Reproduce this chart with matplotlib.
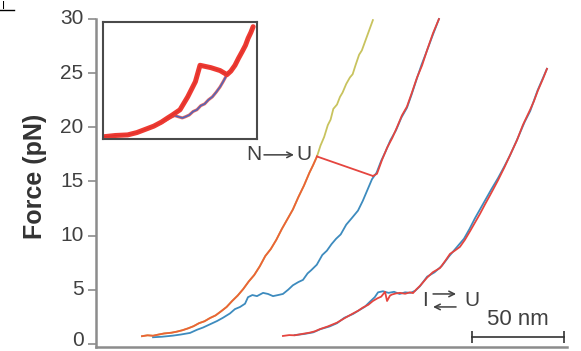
import matplotlib
matplotlib.use("Agg")
import matplotlib.pyplot as plt
from matplotlib.transforms import ScaledTranslation

plt.rcParams['font.family'] = ['Liberation Sans', 'DejaVu Sans']

# ---- trace 1: first pull (native -> unfolded) ----
pull1_x = [25, 28, 31, 34, 37, 41, 44, 47, 50, 53, 56, 59, 62, 65, 68, 71, 74, 77, 80, 83,
           86, 89, 92, 95, 98, 101, 104, 107, 110, 113, 116, 118, 120.1]
pull1_f = [0.70, 0.78, 0.74, 0.85, 0.95, 1.02, 1.12, 1.25, 1.42, 1.62, 1.90, 2.08, 2.38, 2.62,
           3.00, 3.40, 3.95, 4.45, 5.05, 5.75, 6.35, 7.15, 8.10, 8.75, 9.60, 10.60, 11.50,
           12.40, 13.55, 14.60, 15.80, 16.50, 17.30]

# stretch of the native state beyond the unfolding force
native_x = [120.1, 122, 124, 126, 127.5, 129, 131, 132.6, 134, 136, 138, 139.5, 141,
            143, 144.5, 146, 147.5, 149, 150.5]
native_f = [17.30, 18.30, 19.10, 20.20, 20.70, 21.70, 22.10, 22.80, 23.20, 24.00, 24.60,
            24.90, 25.70, 26.70, 27.10, 27.80, 28.50, 29.20, 29.90]

# unfolding rip
rip_x = [120.1, 150.5]
rip_f = [17.3, 15.5]

# unfolded-state stretch
unf_x = [150.5, 152.7, 155.5, 158.2, 161, 163.6, 166.3, 169, 171.7, 174.5, 177.2,
         179.9, 183.2, 186.4]
unf_f = [15.5, 15.7, 17.0, 18.1, 19.0, 20.0, 21.1, 21.9, 23.2, 24.6, 25.7, 27.1, 28.7, 30.0]

# relaxation (blue)
relax1_x = [186.4, 183, 179.5, 177, 174, 171.5, 169, 166, 163, 160, 157.5, 155, 152.5,
            150, 147.5, 145, 142.4, 139, 136, 133, 130.5, 128, 125.5, 123, 120, 117, 115,
            112.5, 110, 107, 104.5, 101.6, 99, 96.2, 93.5, 90.8, 87.5, 85, 82.6, 81, 78.3,
            75.5, 72.8, 69, 65.8, 62, 58.2, 55, 51.1, 46, 41.8, 36, 31]
relax1_f = [30.0, 28.5, 26.9, 25.8, 24.3, 23.0, 21.8, 20.9, 19.7, 18.8, 17.8, 16.9, 15.8,
            15.2, 14.2, 13.2, 12.3, 11.6, 11.0, 10.1, 9.7, 9.2, 8.6, 8.2, 7.3, 6.8, 6.5,
            5.9, 5.7, 5.4, 5.0, 4.6, 4.5, 4.4, 4.6, 4.7, 4.4, 4.5, 4.3, 3.7, 3.4, 3.2, 2.8,
            2.4, 2.1, 1.8, 1.5, 1.3, 1.0, 0.85, 0.75, 0.65, 0.60]

# ---- trace 2: intermediate hopping (I <-> U) ----
pull2_x = [101.6, 105, 108, 112.5, 116, 119, 121.7, 126, 131, 135, 139.7, 142.5, 145.1,
           148, 150.5, 153, 155, 157.1, 158.2, 159.8, 160.9, 163, 165.2, 168, 170.7, 172.3,
           174, 176.1, 179.9, 183, 187, 190, 192.4, 195, 197.8, 200.5, 203.3, 206, 208.7,
           211.5, 214.1, 216, 218.5, 222, 225, 228.8, 232, 235.9, 238, 240.2, 243, 245.1]
pull2_f = [0.72, 0.80, 0.78, 0.92, 1.02, 1.15, 1.35, 1.60, 1.95, 2.35, 2.80, 3.05, 3.35,
           3.60, 3.95, 4.20, 4.35, 4.80, 3.95, 4.45, 4.55, 4.65, 4.70, 4.62, 4.75, 4.68,
           5.00, 5.35, 6.10, 6.60, 7.00, 7.70, 8.30, 8.60, 8.95, 9.60, 10.40, 11.20, 12.00,
           12.90, 13.70, 14.30, 15.10, 16.30, 17.40, 18.80, 20.20, 21.60, 22.40, 23.40,
           24.50, 25.40]

relax2_x = [108, 113, 118, 122, 127, 131, 135, 139.7, 143, 146, 149, 151.5, 153.3, 156,
            159, 162, 165, 168, 171, 173.5, 176, 180, 184, 188, 192, 196, 200, 203, 206,
            209, 212, 215, 218.5, 222, 225, 229, 233, 236, 240, 245.1]
relax2_f = [0.80, 0.90, 1.05, 1.35, 1.60, 1.90, 2.40, 2.75, 3.10, 3.40, 3.90, 4.30, 4.75,
            4.85, 4.70, 4.80, 4.60, 4.75, 4.70, 4.90, 5.30, 6.20, 6.60, 7.20, 8.10, 8.90,
            9.70, 10.60, 11.60, 12.50, 13.40, 14.30, 15.30, 16.40, 17.40, 18.90, 20.50,
            21.50, 23.40, 25.40]

# ---- inset: overlay of repeated pulls (relative units) ----
ins_pull_x = [0.01, 0.08, 0.16, 0.22, 0.27, 0.33, 0.38, 0.42, 0.45, 0.50, 0.55, 0.60,
              0.63, 0.70, 0.76, 0.805, 0.83, 0.857, 0.88, 0.903, 0.925, 0.942, 0.96, 0.975]
ins_pull_y = [0.02, 0.03, 0.035, 0.055, 0.08, 0.11, 0.145, 0.18, 0.205, 0.25, 0.36, 0.49,
              0.63, 0.61, 0.585, 0.55, 0.58, 0.63, 0.69, 0.745, 0.80, 0.86, 0.91, 0.96]
ins_relax_x = [0.805, 0.78, 0.76, 0.735, 0.71, 0.685, 0.66, 0.635, 0.61, 0.585, 0.56,
               0.535, 0.515, 0.49, 0.465, 0.44, 0.42, 0.40, 0.38]
ins_relax_y = [0.55, 0.49, 0.445, 0.40, 0.36, 0.335, 0.30, 0.285, 0.25, 0.235, 0.205,
               0.19, 0.18, 0.19, 0.20, 0.185, 0.17, 0.155, 0.14]

yticks = [0, 5, 10, 15, 20, 25, 30]

ORANGE = '#EC6236'
YELLOW = '#C8C35E'
RED = '#E5453F'
BLUE = '#3D8BBE'
TXT = '#404040'
AXC = '#8C8C8C'

fig = plt.figure(figsize=(5.81, 3.51), dpi=100)
ax = fig.add_axes([96 / 581, 4 / 351, 471 / 581, 328 / 351])
ax.set_xlim(0, 256)
ax.set_ylim(-0.3, 30)

lw = 1.3
ax.plot(pull1_x + native_x, pull1_f + native_f, color=YELLOW, lw=lw, clip_on=False)
ax.plot(relax1_x, relax1_f, color=BLUE, lw=lw, clip_on=False)
ax.plot(pull1_x, pull1_f, color=ORANGE, lw=lw, clip_on=False)
ax.plot(rip_x, rip_f, color=RED, lw=lw)
ax.plot(unf_x, unf_f, color=RED, lw=lw, clip_on=False)

ax.plot(relax2_x, relax2_f, color=BLUE, lw=lw, clip_on=False)
ax.plot(pull2_x, pull2_f, color=RED, lw=lw, clip_on=False)

for s in ('top', 'right'):
    ax.spines[s].set_visible(False)
for s in ('left', 'bottom'):
    ax.spines[s].set_color(AXC)
    ax.spines[s].set_linewidth(1.8)
ax.spines['left'].set_bounds(-0.3, 30)
ax.set_xticks([])
ax.set_yticks(yticks)
ax.set_yticklabels([str(v) for v in yticks])
ax.tick_params(axis='y', direction='out', length=6, width=1.2, color=AXC,
               labelsize=15, labelcolor=TXT, pad=3)
# lift the tick labels slightly; the lowest one a little more so it stays inside the figure
for lab in ax.get_yticklabels():
    dy = 5 if lab.get_text() == '0' else 2
    lab.set_transform(lab.get_transform() +
                      ScaledTranslation(0, dy / 100, fig.dpi_scale_trans))

fig.text(35 / 581, 1 - 176 / 351, 'Force (pN)', rotation=90, ha='center', va='center',
         fontsize=18, fontweight='bold', color='#333333')

arrow_kw = dict(arrowstyle='->', color=TXT, lw=1.1, shrinkA=0, shrinkB=0,
                mutation_scale=10)

# N -> U label
ax.text(90.2, 17.45, 'N', ha='right', va='center', fontsize=15, color=TXT)
ax.annotate('', xy=(107.6, 17.45), xytext=(91.3, 17.45), arrowprops=arrow_kw)
ax.text(108.7, 17.45, 'U', ha='left', va='center', fontsize=15, color=TXT)

# I <-> U label
ax.text(180.5, 4.0, 'I', ha='right', va='center', fontsize=15, color=TXT)
ax.annotate('', xy=(195.7, 4.6), xytext=(183.2, 4.6), arrowprops=arrow_kw)
ax.annotate('', xy=(183.2, 3.4), xytext=(195.7, 3.4), arrowprops=arrow_kw)
ax.text(200.3, 4.0, 'U', ha='left', va='center', fontsize=15, color=TXT)

# scale bar
bar_start, bar_len = 204.5, 50
ax.plot([bar_start, bar_start + bar_len], [0.65, 0.65], color='#333333', lw=1.2,
        clip_on=False)
ax.plot([bar_start, bar_start + bar_len], [0.65, 0.65], ls='none', marker='|',
        ms=8, mew=1.2, color='#333333', clip_on=False)
ax.text(bar_start + bar_len / 2, 2.2, '50 nm', ha='center', va='center', fontsize=16,
        color=TXT)

# inset
ins = fig.add_axes([103 / 581, 1 - 139 / 351, 154 / 581, 117 / 351])
ins.set_xlim(0, 1)
ins.set_ylim(0, 1)
ins.set_xticks([])
ins.set_yticks([])
for s in ins.spines.values():
    s.set_color('#4a4a4a')
    s.set_linewidth(1.5)
ins.plot(ins_relax_x, ins_relax_y, color='#E8453E', lw=2.2, alpha=0.8)
ins.plot(ins_relax_x, ins_relax_y, color='#5565B5', lw=1.2)
ins.plot(ins_pull_x, ins_pull_y, color='#EE3A32', lw=3.6, solid_capstyle='round')
ins.plot(ins_pull_x, ins_pull_y, color='#D82E28', lw=0.8, alpha=0.7)

# cropped panel mark in the corner
fig.text(0.004, 0.998, 'I', ha='left', va='top', fontsize=8, color='black')
fig.add_artist(plt.Line2D([0, 0.024], [0.972, 0.972], color='black', lw=1,
                          transform=fig.transFigure))

fig.savefig('out.png', dpi=100)
